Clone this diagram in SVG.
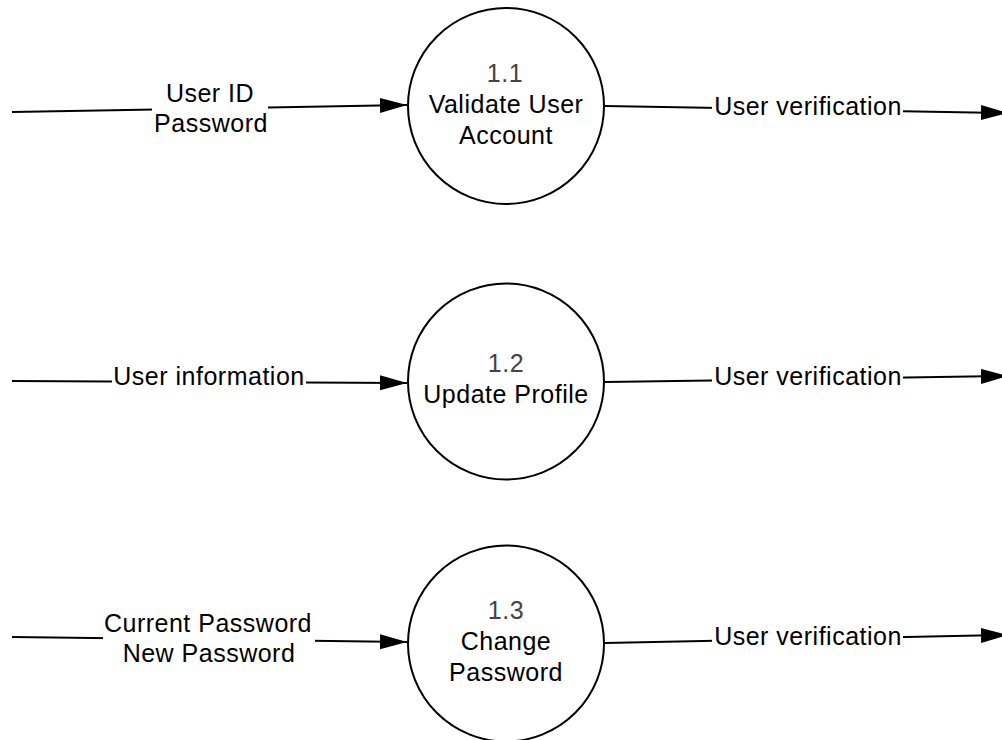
<svg xmlns="http://www.w3.org/2000/svg" width="1002" height="740" viewBox="0 0 1002 740">
  <style>
    .proc { fill: #ffffff; stroke: #000000; stroke-width: 2; }
    .flow { fill: none; stroke: #000000; stroke-width: 2; marker-end: url(#arrow); }
    .t { font-family: "Liberation Sans", Arial, sans-serif; font-size: 25px; letter-spacing: 0.5px; fill: #000000; text-anchor: middle; }
    .num { fill: #444444; }
    .bg { fill: #ffffff; stroke: none; }
  </style>
  <defs>
    <marker id="arrow" markerUnits="userSpaceOnUse" markerWidth="28" markerHeight="16" refX="27" refY="7.5" orient="auto">
      <path d="M0,0 L27,7.5 L0,15 Z" fill="#000000"/>
    </marker>
  </defs>
  <rect width="1002" height="740" fill="#ffffff"/>

  <g id="connectors">
    <g id="flow-in-1">
      <line class="flow" x1="12" y1="112" x2="407" y2="105"/>
      <rect class="bg" x="152" y="82" width="116" height="56"/>
      <text class="t" x="210" y="102">User ID</text>
      <text class="t" x="211" y="132">Password</text>
    </g>
    <g id="flow-out-1">
      <line class="flow" x1="605" y1="106" x2="1008" y2="113"/>
      <rect class="bg" x="712" y="96" width="191" height="24"/>
      <text class="t" x="808" y="115">User verification</text>
    </g>
    <g id="flow-in-2">
      <line class="flow" x1="12" y1="381" x2="407" y2="383"/>
      <rect class="bg" x="112" y="364" width="194" height="26"/>
      <text class="t" x="209" y="385">User information</text>
    </g>
    <g id="flow-out-2">
      <line class="flow" x1="605" y1="382" x2="1008" y2="376"/>
      <rect class="bg" x="712" y="366" width="191" height="24"/>
      <text class="t" x="808" y="385">User verification</text>
    </g>
    <g id="flow-in-3">
      <line class="flow" x1="12" y1="637" x2="407" y2="642"/>
      <rect class="bg" x="103" y="610" width="212" height="58"/>
      <text class="t" x="208" y="632">Current Password</text>
      <text class="t" x="209" y="662">New Password</text>
    </g>
    <g id="flow-out-3">
      <line class="flow" x1="605" y1="643" x2="1008" y2="635"/>
      <rect class="bg" x="712" y="626" width="191" height="24"/>
      <text class="t" x="808" y="645">User verification</text>
    </g>
  </g>

  <g id="node-1-1">
    <circle class="proc" cx="506" cy="106" r="98"/>
    <text class="t num" x="505" y="82">1.1</text>
    <text class="t" x="506" y="113">Validate User</text>
    <text class="t" x="506" y="144">Account</text>
  </g>
  <g id="node-1-2">
    <circle class="proc" cx="506" cy="381.5" r="98"/>
    <text class="t num" x="506" y="372">1.2</text>
    <text class="t" x="506" y="403">Update Profile</text>
  </g>
  <g id="node-1-3">
    <circle class="proc" cx="506" cy="643.5" r="98"/>
    <text class="t num" x="506" y="619">1.3</text>
    <text class="t" x="506" y="650">Change</text>
    <text class="t" x="506" y="681">Password</text>
  </g>
</svg>
